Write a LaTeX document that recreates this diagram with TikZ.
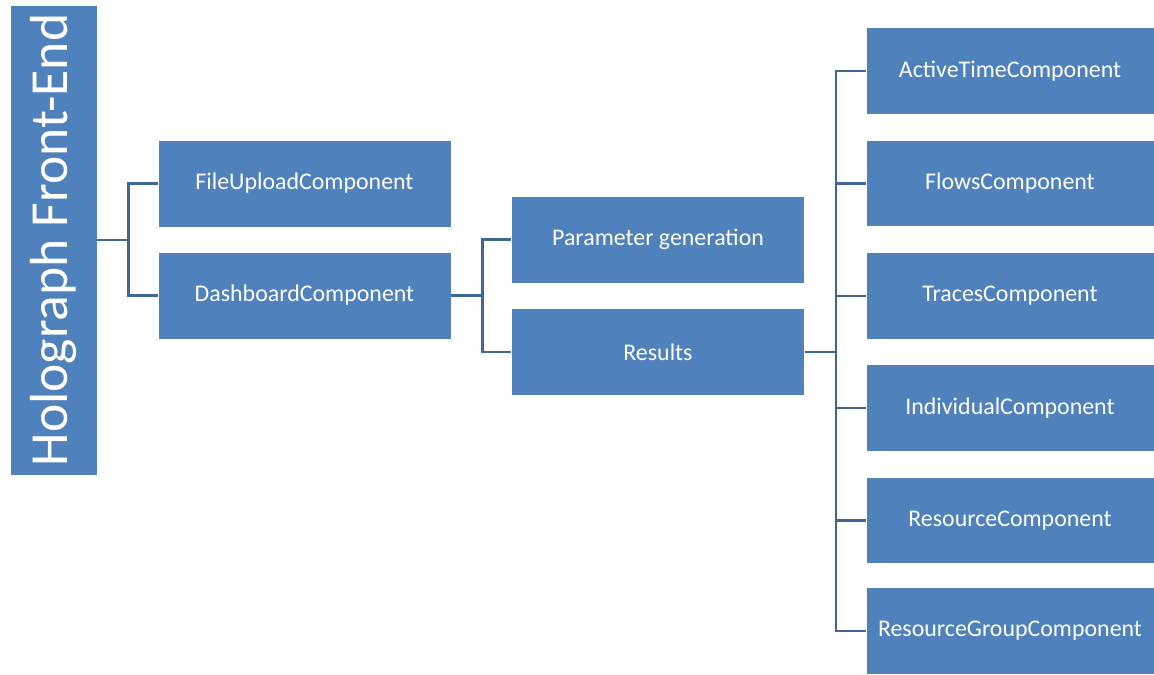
\documentclass[tikz,border=0pt]{standalone}
\usepackage{fontspec}
\setmainfont{Carlito}
\definecolor{boxblue}{RGB}{79,129,189}
\definecolor{lineblue}{RGB}{64,102,150}

\begin{document}
\begin{tikzpicture}
		[x=0.02cm,y=-0.02cm]
		\tikzstyle{every node}=[rectangle, fill=boxblue, draw=white, line width=0.4pt,
		text=white, inner sep=0pt]
		\tikzstyle{comp}=[minimum width=5.86cm, minimum height=1.74cm, font=\fontsize{13.6}{15}\selectfont]
		\tikzstyle{leaf}=[minimum width=5.76cm, minimum height=1.73cm, font=\fontsize{13.6}{15}\selectfont]
		\tikzstyle{conn}=[draw=lineblue, line width=1.4pt]
		\useasboundingbox (0,0) rectangle (1154,674);
		%-----root
		 \node[minimum width=9.4cm, minimum height=1.74cm, font=\fontsize{30.5}{33}\selectfont, rotate=90] (holo) at (53.5,240) {Holograph Front-End};
		%-----level 1
		 \node[comp] (upload) at (304.5,183.5) {FileUploadComponent};
		 \node[comp] (dash) at (304.5,295.5) {DashboardComponent};
		%-----level 2
		 \node[comp] (param) at (658,239.5) {Parameter generation};
		 \node[comp] (results) at (658,352) {Results};
		%-----level 3
		 \node[leaf] (active) at (1010,71) {ActiveTimeComponent};
		 \node[leaf] (flows) at (1010,183.5) {FlowsComponent};
		 \node[leaf] (traces) at (1010,296) {TracesComponent};
		 \node[leaf] (indiv) at (1010,408) {IndividualComponent};
		 \node[leaf] (res) at (1010,520.5) {ResourceComponent};
		 \node[leaf] (resgroup) at (1010,631) {ResourceGroupComponent};
		 
		 \foreach \to in {upload, dash}
		 \draw[conn] (holo.south) -- ++(31,0) |- (\to.west);
		 
		 \foreach \to in {param, results}
		 \draw[conn] (dash.east) -- ++(31,0) |- (\to.west);
		 
		 \foreach \to in {active, flows, traces, indiv, res, resgroup}
		 \draw[conn] (results.east) -- ++(31,0) |- (\to.west);
		 
\end{tikzpicture}
\end{document}
